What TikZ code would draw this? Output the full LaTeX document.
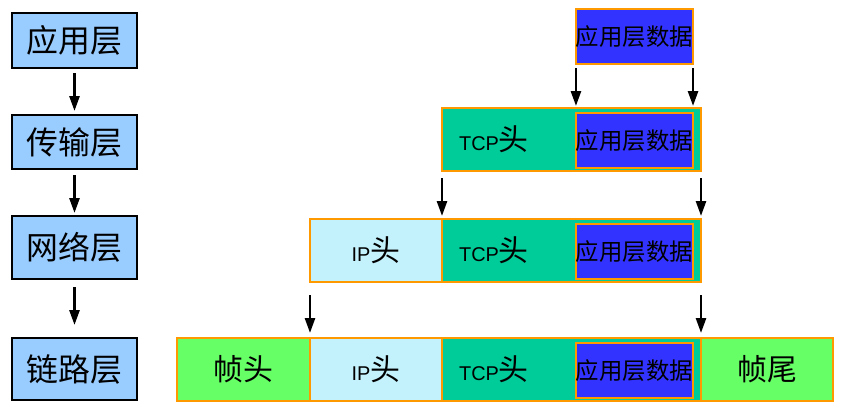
\documentclass[tikz,border=0pt]{standalone}
\usepackage{fontspec}
\setmainfont{Liberation Sans}
\newfontfamily\cjk{Noto Sans CJK SC}
\usetikzlibrary{arrows.meta}
\definecolor{layerblue}{HTML}{99CCFF}
\definecolor{datablue}{HTML}{3333FF}
\definecolor{tcpgreen}{HTML}{00CC99}
\definecolor{ipcyan}{HTML}{C4F2FC}
\definecolor{framegreen}{HTML}{66FF66}
\definecolor{edgeorange}{HTML}{FF9900}
\newcommand\zh[1]{{\cjk\fontsize{30}{30}\selectfont #1}}
\begin{document}
\begin{tikzpicture}[x=1bp,y=-1bp,>={Triangle[length=15bp,width=10bp]},
  every node/.style={inner sep=0pt,outer sep=0pt},
  layer/.style={draw=black,fill=layerblue,line width=1.2bp,minimum width=125bp,font=\cjk\fontsize{32}{32}\selectfont},
  seg/.style={draw=edgeorange,line width=1.2bp,minimum height=63bp,font=\fontsize{20}{20}\selectfont},
  data/.style={draw=edgeorange,fill=datablue,line width=1.2bp,minimum width=117bp,minimum height=55bp,font=\cjk\fontsize{23.5}{23.5}\selectfont},
  down/.style={->,line width=2.6bp}]
\useasboundingbox (0,0) rectangle (847,414);
% layers on the left
\node[layer,minimum height=55bp] (app) at (74.5,40.5) {应用层};
\node[layer,minimum height=54bp] (trans) at (74.5,142) {传输层};
\node[layer,minimum height=63bp] (net) at (74.5,247.5) {网络层};
\node[layer,minimum height=62bp] (link) at (74.5,369) {链路层};
\foreach \a/\b/\s/\e in {app/trans/5/4,trans/net/6/3,net/link/8/13}
  \draw[down,shorten <=\s bp,shorten >=\e bp] (\a) -- (\b);
% application data
\node[data] (d1) at (634.5,36.5) {应用层数据};
% transport segment
\node[seg,fill=tcpgreen,minimum width=259bp] (tcp2) at (571.5,139.5) {};
\node[data] (d2) at (634.5,140.5) {应用层数据};
\node[font=\fontsize{20}{20}\selectfont] (tcp2t) at (494,139) {TCP\zh{头}};
\draw[down] ([yshift=-4bp]d1.south west) -- ([yshift=2bp]d1.west |- tcp2.north);
\draw[down] ([yshift=-4bp]d1.south east) -- ([yshift=2bp]d1.east |- tcp2.north);
% network packet
\node[seg,fill=ipcyan,minimum width=132bp] (ip3) at (376,250.5) {IP\zh{头}};
\node[seg,fill=tcpgreen,minimum width=259bp] (tcp3) at (571.5,250.5) {};
\node[data] (d3) at (634.5,251.5) {应用层数据};
\node[font=\fontsize{20}{20}\selectfont] (tcp3t) at (494,250) {TCP\zh{头}};
\draw[down] ([yshift=-7bp]tcp2.south west) -- ([yshift=3bp]tcp2.west |- tcp3.north);
\draw[down] ([yshift=-7bp]tcp2.south east) -- ([yshift=3bp]tcp2.east |- tcp3.north);
% link frame
\node[seg,fill=framegreen,minimum width=133bp] (fh) at (243.5,369.5) {\zh{帧头}};
\node[seg,fill=ipcyan,minimum width=132bp] (ip4) at (376,369.5) {IP\zh{头}};
\node[seg,fill=tcpgreen,minimum width=259bp] (tcp4) at (571.5,369.5) {};
\node[data] (d4) at (634.5,370.5) {应用层数据};
\node[font=\fontsize{20}{20}\selectfont] (tcp4t) at (494,369) {TCP\zh{头}};
\node[seg,fill=framegreen,minimum width=132bp] (ft) at (767,369.5) {\zh{帧尾}};
\draw[down] ([yshift=-13bp]ip3.south west) -- ([yshift=5bp]ip3.west |- ip4.north);
\draw[down] ([yshift=-13bp]tcp3.south east) -- ([yshift=5bp]tcp3.east |- tcp4.north);
\end{tikzpicture}
\end{document}
